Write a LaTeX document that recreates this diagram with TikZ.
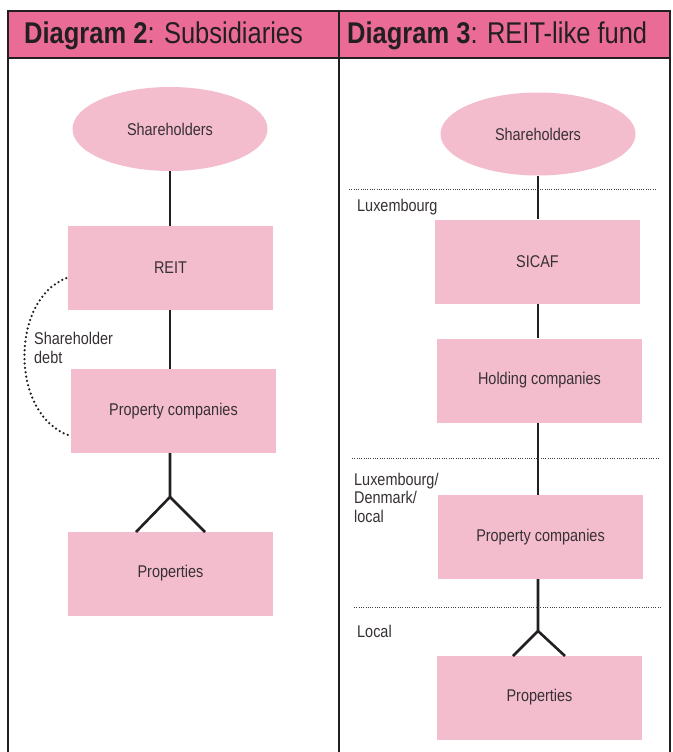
\documentclass[tikz,border=0pt]{standalone}
\usepackage{fontspec}
\setmainfont{Liberation Sans}[FakeStretch=0.85]
\usetikzlibrary{calc,shapes.geometric}
\definecolor{hdr}{RGB}{234,108,150}
\definecolor{boxpink}{RGB}{244,189,206}
\definecolor{txt}{RGB}{55,48,52}
\definecolor{ink}{RGB}{35,31,32}
\newcommand\dgbody{\fontsize{17}{18.5}\selectfont}
\newcommand\dghead{\fontsize{30}{32}\selectfont}
\begin{document}
\begin{tikzpicture}[x=1pt,y=-1pt,
  pbox/.style={rectangle, fill=boxpink, minimum width=205pt, minimum height=84pt, inner sep=0pt, text=txt, font=\dgbody},
  oval/.style={ellipse, fill=boxpink, minimum width=195pt, minimum height=84pt, inner sep=0pt, text=txt, font=\dgbody},
  link/.style={draw=ink, line width=2.6pt},
  sepline/.style={draw=black!75, line width=0.9pt, dash pattern=on 1pt off 1.3pt},
  loan/.style={draw=ink, line width=2.5pt, line cap=round, dash pattern=on 0pt off 4.4pt},
  lbl/.style={anchor=base west, align=left, inner sep=0pt, text=txt, font=\dgbody},
  headtxt/.style={anchor=base west, inner sep=0pt, text=ink, font=\dghead},
  frame/.style={draw=ink, line width=1.2pt}]
\useasboundingbox (0,0) rectangle (672,752);
\fill[white] (0,0) rectangle (672,752);
% header and frame
\fill[hdr] (8,11) rectangle (670,58);
\draw[frame] (8,752) -- (8,11) -- (670,11) -- (670,752);
\draw[frame] (339,11) -- (339,752);
\draw[frame] (8,58) -- (670,58);
\node[headtxt] (h2) at (24,44) {\textbf{Diagram 2}: Subsidiaries};
\node[headtxt] (h3) at (347,44) {\textbf{Diagram 3}: REIT-like fund};
% left diagram
\node[oval] (sh1) at (170,129) {Shareholders};
\node[pbox] (reit) at (170.5,268) {REIT};
\node[pbox] (pc1) at (173.5,411) {Property companies};
\node[pbox] (pr1) at (170.5,573.5) {Properties};
\coordinate (a1) at (170,497);
\coordinate (l1) at (136,532);
\coordinate (r1) at (205,532);
\draw[link] (sh1.south) -- (sh1.south |- reit.north);
\draw[link] (a1 |- reit.south) -- (a1 |- pc1.north);
\draw[link] (a1 |- pc1.south) -- (a1) -- (l1);
\draw[link] (a1) -- (r1);
\coordinate (d1) at ($(reit.north west)!0.62!(reit.south west)+(-1.5,0)$);
\coordinate (d2) at ($(pc1.north west)!0.79!(pc1.south west)+(-1.5,0)$);
\draw[loan] (d1) .. controls (10,300) and (10,415) .. (d2);
\node[lbl] (debt) at (34,363) {Shareholder\\debt};
% right diagram
\node[oval, minimum height=83pt] (sh2) at (538,134) {Shareholders};
\node[pbox] (sicaf) at (537.5,261.5) {SICAF};
\node[pbox] (hold) at (539.5,380.5) {Holding companies};
\node[pbox] (pc2) at (540.5,537) {Property companies};
\node[pbox] (pr2) at (539.5,697.5) {Properties};
\coordinate (a2) at (538,631);
\coordinate (l2) at (513,656);
\coordinate (r2) at (565,656);
\draw[link] (sh2.south) -- (sh2.south |- sicaf.north);
\draw[link] (a2 |- sicaf.south) -- (a2 |- hold.north);
\draw[link] (a2 |- hold.south) -- (a2 |- pc2.north);
\draw[link] (a2 |- pc2.south) -- (a2) -- (l2);
\draw[link] (a2) -- (r2);
\coordinate (s1a) at (349,189); \coordinate (s1b) at (657,189);
\coordinate (s2a) at (352,458); \coordinate (s2b) at (659,458);
\coordinate (s3a) at (354,607); \coordinate (s3b) at (661,607);
\draw[sepline] (s1a) -- (s1b);
\draw[sepline] (s2a) -- (s2b);
\draw[sepline] (s3a) -- (s3b);
\node[lbl] (lux) at (357,211) {Luxembourg};
\node[lbl] (ldl) at (354,522) {Luxembourg/\\Denmark/\\local};
\node[lbl] (loc) at (357,637) {Local};
\end{tikzpicture}
\end{document}
